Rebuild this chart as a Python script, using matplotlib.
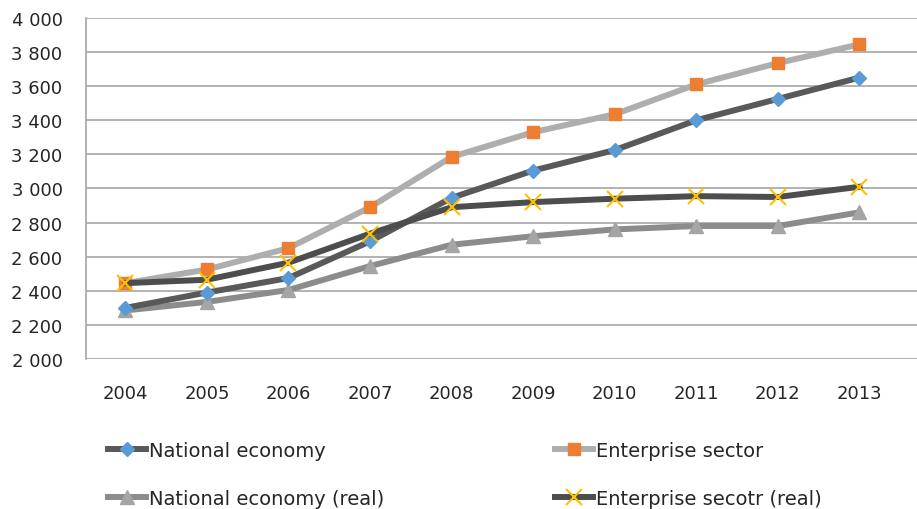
import matplotlib.pyplot as plt

years = [2004, 2005, 2006, 2007, 2008, 2009, 2010, 2011, 2012, 2013]
national = [2300, 2390, 2475, 2690, 2945, 3105, 3225, 3400, 3525, 3650]
enterprise = [2445, 2525, 2650, 2890, 3185, 3330, 3435, 3610, 3735, 3845]
national_real = [2285, 2335, 2405, 2545, 2670, 2720, 2760, 2780, 2780, 2860]
enterprise_real = [2445, 2465, 2565, 2735, 2890, 2920, 2940, 2955, 2950, 3010]
yticks = list(range(2000, 4001, 200))

plt.rcParams['font.family'] = ['DejaVu Sans']

fig = plt.figure(figsize=(9.17, 5.10), dpi=100)
ax = fig.add_axes([0.094, 0.294, 0.91, 0.669])

l1, = ax.plot(years, national, color='#595959', lw=4.3, marker='D', ms=7.5,
              mfc='#5B9BD5', mec='#5B9BD5', label='National economy', zorder=4)
l2, = ax.plot(years, enterprise, color='#AEAEAE', lw=4.3, marker='s', ms=8.5,
              mfc='#ED7D31', mec='#ED7D31', label='Enterprise sector', zorder=3)
l3, = ax.plot(years, national_real, color='#8C8C8C', lw=4.3, marker='^', ms=10,
              mfc='#A5A5A5', mec='#A5A5A5', label='National economy (real)', zorder=3)
l4, = ax.plot(years, enterprise_real, color='#4D4D4D', lw=4.3, marker='x', ms=11, mew=1.5,
              mec='#FFC000', label='Enterprise secotr (real)', zorder=5)

ax.set_xlim(2003.52, 2013.75)
ax.set_ylim(2000, 4000)
ax.set_yticks(yticks)
ax.set_yticklabels([f'{v // 1000} {v % 1000:03d}' for v in yticks])
ax.set_xticks(years)
ax.tick_params(length=0, labelsize=13, colors='#262626')
ax.tick_params(axis='x', pad=18)
ax.tick_params(axis='y', pad=17)
ax.grid(axis='y', color='#A6A6A6', lw=1.2)
ax.set_axisbelow(True)
for s in ['top', 'right', 'bottom']:
    ax.spines[s].set_visible(False)
ax.spines['left'].set_color('#A6A6A6')
ax.spines['left'].set_linewidth(1.2)

# two legend columns placed separately
leg_kw = dict(loc='center left', frameon=False, fontsize=14, handlelength=1.95,
              handletextpad=0.15, labelspacing=1.5, labelcolor='#262626',
              borderaxespad=0, borderpad=0)
leg1 = fig.legend(handles=[l1, l3], bbox_to_anchor=(0.118, 0.068), **leg_kw)
leg2 = fig.legend(handles=[l2, l4], bbox_to_anchor=(0.605, 0.068), **leg_kw)

fig.savefig('out.png', dpi=100)
